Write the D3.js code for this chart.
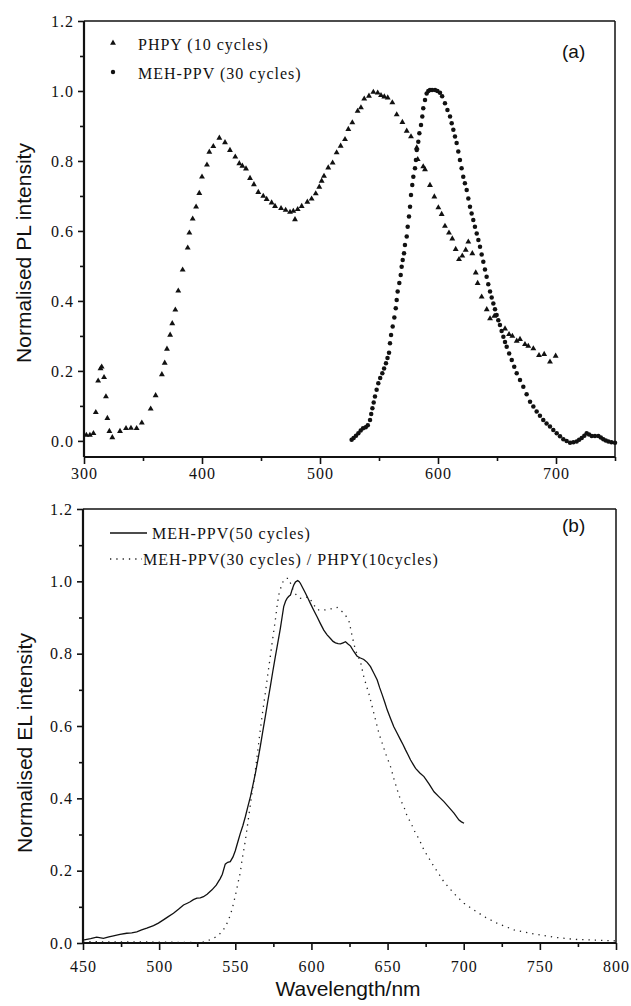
<!DOCTYPE html>
<html>
<head>
<meta charset="utf-8">
<script src="https://cdn.jsdelivr.net/npm/d3@7"></script>
<style>
  body { margin: 0; background: #fff; }
  .tick text { font-family: 'Liberation Serif', serif; font-size: 16px; letter-spacing: 1px; fill: #111; }
  .tick line { stroke: #111; stroke-width: 1.6; }
</style>
</head>
<body>
<div id="chart"></div>
<script>
// (a) PL spectra
const phpyNm = [302, 305, 308, 310, 312, 314, 315, 317, 318.6, 319.8, 321.5, 324, 330.5, 335.6, 339.8, 344.6, 349, 356.5, 360.7, 366, 368.4, 370.3, 373, 374.8, 377.4, 379.9, 383.6, 387.9, 389.3, 392.1, 395, 397.7, 400, 404.2, 406.2, 409.6, 414.7, 419.5, 423.7, 428.2, 431.6, 434.2, 437.3, 440.7, 444, 447.7, 451.9, 454.8, 459, 461.9, 467, 470.9, 474.6, 477.4, 478.8, 481.1, 484.5, 489.3, 492.9, 496.4, 499.4, 501.4, 503.4, 507, 510.7, 514.1, 517.5, 521.2, 524, 527.4, 531.9, 534.7, 537.5, 541.5, 545.2, 548.9, 551.7, 554.5, 557.4, 561.3, 565, 569.8, 573.5, 577.1, 582, 582.8, 587.5, 589, 593.2, 596.9, 600.3, 603.1, 605.9, 609.3, 612.1, 615, 617.8, 620.6, 623.5, 625.7, 629.1, 632, 633.6, 637, 641.3, 644.1, 647.7, 656.8, 660.2, 663, 666.7, 669.5, 673.7, 676.5, 680.8, 685.6, 690, 694.9, 699.7];
const phpyPL = [0.015, 0.015, 0.02, 0.08, 0.17, 0.205, 0.21, 0.18, 0.125, 0.063, 0.026, 0.008, 0.026, 0.034, 0.035, 0.034, 0.05, 0.09, 0.128, 0.188, 0.221, 0.261, 0.301, 0.334, 0.373, 0.427, 0.487, 0.55, 0.593, 0.633, 0.667, 0.706, 0.753, 0.787, 0.824, 0.84, 0.864, 0.851, 0.829, 0.81, 0.791, 0.784, 0.776, 0.749, 0.731, 0.709, 0.698, 0.689, 0.679, 0.669, 0.663, 0.658, 0.652, 0.655, 0.631, 0.66, 0.669, 0.681, 0.69, 0.705, 0.724, 0.741, 0.755, 0.779, 0.793, 0.822, 0.841, 0.86, 0.889, 0.908, 0.941, 0.951, 0.976, 0.984, 0.995, 0.993, 0.986, 0.982, 0.979, 0.965, 0.931, 0.909, 0.884, 0.868, 0.836, 0.803, 0.782, 0.774, 0.729, 0.696, 0.665, 0.646, 0.612, 0.593, 0.576, 0.546, 0.517, 0.527, 0.544, 0.567, 0.534, 0.479, 0.449, 0.41, 0.374, 0.348, 0.355, 0.319, 0.303, 0.298, 0.284, 0.289, 0.274, 0.269, 0.262, 0.243, 0.246, 0.224, 0.241];

const mehNm = [526.8, 528.5, 530.5, 532.5, 534.5, 536.5, 538.7, 540.5, 542.4, 543.4, 544.4, 545.5, 546.6, 548, 549.4, 551, 552.8, 554.3, 555.9, 557.2, 558.5, 559.3, 560.2, 561.6, 563, 564.2, 565, 565.8, 567.2, 568.4, 569.2, 570.1, 571.2, 572, 573.5, 574.3, 575.4, 576.3, 577.1, 578.2, 579.1, 580.5, 581.3, 582, 583.3, 584.2, 585.6, 586.7, 587.5, 589, 590.4, 591.8, 593.2, 595, 597.5, 599.5, 601.7, 603.5, 605.9, 608, 610.2, 611.6, 613, 614.4, 615.8, 617.2, 618.6, 620, 621.4, 622.8, 624.3, 625.7, 627.1, 628.5, 629.9, 631.3, 632.8, 634.2, 635.6, 637, 638.4, 639.8, 641.2, 642.6, 644.1, 645.5, 646.9, 648.3, 649.7, 651.1, 652.5, 653.9, 655.4, 656.8, 658.2, 660.3, 662.5, 664.6, 666.7, 669.5, 672.3, 675.1, 678, 680.8, 683.6, 686.4, 689.2, 692, 694.9, 697.7, 700.6, 703.4, 706.2, 709, 711.9, 714.7, 717.5, 719.6, 721.8, 724, 726, 728, 730.3, 733, 735.9, 738, 740.1, 742.2, 744.4, 747, 750];
const mehPL = [0.003, 0.008, 0.015, 0.022, 0.03, 0.036, 0.039, 0.045, 0.06, 0.077, 0.093, 0.11, 0.127, 0.146, 0.165, 0.18, 0.193, 0.207, 0.222, 0.237, 0.252, 0.279, 0.303, 0.327, 0.353, 0.379, 0.403, 0.427, 0.451, 0.474, 0.498, 0.517, 0.536, 0.56, 0.584, 0.612, 0.641, 0.669, 0.703, 0.731, 0.755, 0.779, 0.803, 0.831, 0.855, 0.879, 0.903, 0.927, 0.951, 0.974, 0.993, 1.0, 1.003, 1.003, 1.003, 1.0, 0.995, 0.985, 0.965, 0.946, 0.927, 0.908, 0.889, 0.87, 0.851, 0.827, 0.803, 0.779, 0.755, 0.736, 0.717, 0.693, 0.669, 0.65, 0.631, 0.612, 0.593, 0.574, 0.555, 0.533, 0.512, 0.49, 0.469, 0.448, 0.427, 0.41, 0.393, 0.376, 0.36, 0.345, 0.331, 0.314, 0.298, 0.283, 0.269, 0.25, 0.231, 0.212, 0.193, 0.174, 0.155, 0.133, 0.112, 0.098, 0.084, 0.072, 0.06, 0.05, 0.041, 0.031, 0.022, 0.013, 0.005, 0, -0.005, -0.004, -0.002, 0.003, 0.008, 0.015, 0.022, 0.018, 0.014, 0.014, 0.014, 0.01, 0.005, 0.001, -0.002, -0.004, -0.005];

// (b) EL spectra
const el50Nm = [450, 455, 459, 463.4, 467, 470, 474.3, 478.7, 482, 485.3, 488.5, 491.9, 496.3, 499.5, 502.8, 506, 509.4, 512.7, 516, 518.5, 520.4, 522.5, 524.8, 527, 529.1, 531.5, 534.7, 537.5, 540.1, 541.5, 543.4, 545, 546.7, 548.5, 550, 551.7, 553.3, 555, 556.6, 558.3, 559.9, 561.5, 563.2, 564.8, 566.4, 568, 569.7, 571.3, 573, 574.6, 576.3, 578, 579.6, 580.7, 581.8, 583, 584, 585, 586.2, 587.3, 588.4, 589.5, 591, 592, 592.8, 594.5, 596.1, 597.7, 599.3, 601.5, 603.7, 605.9, 608.1, 610.3, 612.5, 614.2, 615.8, 617.5, 619.1, 620.8, 622.4, 624, 625.7, 627.8, 630, 632.2, 634.4, 636.6, 638.8, 641, 643.2, 644.8, 646.5, 648.2, 649.8, 652, 654.1, 656.3, 658.6, 660.2, 661.8, 663.5, 665.1, 666.8, 668.4, 671.2, 673.9, 677.2, 680.5, 683.8, 687, 690.3, 693.6, 696.9, 698.5, 700.2];
const el50Val = [0.008, 0.012, 0.016, 0.013, 0.017, 0.02, 0.024, 0.027, 0.028, 0.031, 0.036, 0.041, 0.048, 0.055, 0.064, 0.073, 0.082, 0.093, 0.105, 0.11, 0.114, 0.12, 0.124, 0.125, 0.128, 0.135, 0.147, 0.16, 0.178, 0.19, 0.218, 0.223, 0.225, 0.238, 0.255, 0.28, 0.303, 0.325, 0.349, 0.378, 0.404, 0.435, 0.469, 0.505, 0.543, 0.584, 0.626, 0.667, 0.709, 0.75, 0.792, 0.832, 0.87, 0.9, 0.93, 0.945, 0.953, 0.958, 0.962, 0.977, 0.99, 0.998, 1.002, 0.999, 0.994, 0.98, 0.967, 0.953, 0.939, 0.92, 0.902, 0.883, 0.865, 0.852, 0.842, 0.834, 0.83, 0.828, 0.827, 0.83, 0.833, 0.827, 0.821, 0.806, 0.793, 0.788, 0.784, 0.776, 0.764, 0.746, 0.727, 0.706, 0.686, 0.665, 0.644, 0.62, 0.598, 0.58, 0.561, 0.548, 0.534, 0.52, 0.506, 0.494, 0.483, 0.47, 0.46, 0.44, 0.418, 0.404, 0.391, 0.375, 0.359, 0.34, 0.335, 0.331];

const elMixNm = [450, 470, 490, 510, 527, 531, 535.7, 538.5, 541.2, 543.5, 545.6, 547.3, 548.9, 550.5, 552.2, 553.3, 554.4, 555.5, 556.6, 558, 559.4, 560.8, 562.1, 563.2, 564.8, 566.4, 568, 569.7, 571.3, 573, 574.6, 576.3, 577.4, 578.5, 580.1, 581.8, 583.5, 585.1, 586.7, 588.4, 590.6, 592.8, 595.5, 598.2, 600.9, 603.7, 606.5, 609.2, 613, 616.9, 619.1, 621.3, 623, 624.5, 625.7, 626.8, 628.9, 630.5, 632.2, 634.4, 636, 637.7, 639.4, 641, 642.7, 644.3, 646.5, 648.7, 650.4, 652, 654.1, 656.4, 658.6, 660.7, 663, 665.1, 668.4, 670.6, 673.9, 677.2, 680.5, 683.8, 687, 690.3, 693.6, 696.9, 700.2, 706.8, 713.4, 722.2, 733.1, 746.3, 759.4, 772.6, 785.7, 800];
const elMixVal = [0.004, 0.003, 0.003, 0.002, 0.001, 0.005, 0.013, 0.02, 0.031, 0.045, 0.064, 0.085, 0.11, 0.14, 0.174, 0.195, 0.229, 0.255, 0.283, 0.325, 0.368, 0.41, 0.445, 0.478, 0.533, 0.589, 0.64, 0.69, 0.741, 0.792, 0.842, 0.893, 0.93, 0.962, 0.985, 1.004, 1.008, 1.008, 0.99, 0.971, 0.96, 0.953, 0.955, 0.957, 0.94, 0.921, 0.921, 0.921, 0.924, 0.928, 0.92, 0.912, 0.902, 0.893, 0.87, 0.847, 0.81, 0.794, 0.778, 0.736, 0.713, 0.69, 0.662, 0.635, 0.607, 0.58, 0.552, 0.524, 0.505, 0.487, 0.455, 0.423, 0.395, 0.377, 0.349, 0.334, 0.303, 0.288, 0.257, 0.234, 0.211, 0.19, 0.169, 0.153, 0.137, 0.123, 0.11, 0.091, 0.073, 0.054, 0.036, 0.025, 0.016, 0.01, 0.008, 0.006];

// ticks
const plXMajor = [300, 400, 500, 600, 700];
const plXMinor = [350, 450, 550, 650, 750];
const elXMajor = [450, 500, 550, 600, 650, 700, 750, 800];
const elXMinor = [475, 525, 575, 625, 675, 725, 775];
const yMajor = [0, 0.2, 0.4, 0.6, 0.8, 1.0, 1.2];
const yMinor = [0.1, 0.3, 0.5, 0.7, 0.9, 1.1];

const legendA = ['PHPY (10 cycles)', 'MEH-PPV (30 cycles)'];
const legendB = ['MEH-PPV(50 cycles)', 'MEH-PPV(30 cycles) / PHPY(10cycles)'];

const width = 631, height = 1006;
const svg = d3.select('#chart').append('svg')
    .attr('width', width)
    .attr('height', height);

const zip = (xs, ys) => xs.map((x, i) => ({ x: x, y: ys[i] }));

function panel(opts) {
  const x = d3.scaleLinear().domain(opts.xDomain).range([opts.left, opts.right]);
  const y = d3.scaleLinear().domain(opts.yDomain).range([opts.bottom, opts.top]);
  const g = svg.append('g');

  // minor ticks
  g.append('g').attr('transform', 'translate(0,' + opts.bottom + ')')
    .call(d3.axisBottom(x).tickValues(opts.xMinor).tickSize(4).tickFormat(''))
    .call(a => a.select('.domain').remove());
  g.append('g').attr('transform', 'translate(' + opts.left + ',0)')
    .call(d3.axisLeft(y).tickValues(yMinor).tickSize(4).tickFormat(''))
    .call(a => a.select('.domain').remove());
  // major ticks
  g.append('g').attr('transform', 'translate(0,' + opts.bottom + ')')
    .call(d3.axisBottom(x).tickValues(opts.xMajor).tickSize(7).tickPadding(opts.xPad).tickFormat(d3.format('d')))
    .call(a => a.select('.domain').remove());
  g.append('g').attr('transform', 'translate(' + opts.left + ',0)')
    .call(d3.axisLeft(y).tickValues(yMajor).tickSize(6).tickPadding(4).tickFormat(d3.format('.1f')))
    .call(a => a.select('.domain').remove());

  // frame
  g.append('line').attr('x1', opts.left).attr('x2', opts.right).attr('y1', opts.top).attr('y2', opts.top)
    .attr('stroke', '#111').attr('stroke-width', 1.5);
  g.append('line').attr('x1', opts.right).attr('x2', opts.right).attr('y1', opts.top).attr('y2', opts.bottom)
    .attr('stroke', '#111').attr('stroke-width', 1.5);
  g.append('line').attr('x1', opts.left).attr('x2', opts.left).attr('y1', opts.top).attr('y2', opts.bottom)
    .attr('stroke', '#111').attr('stroke-width', 2.2);
  g.append('line').attr('x1', opts.left).attr('x2', opts.right).attr('y1', opts.bottom).attr('y2', opts.bottom)
    .attr('stroke', '#111').attr('stroke-width', 2.2);

  // y title
  g.append('text')
    .attr('transform', 'translate(' + opts.yTitleX + ',' + opts.yTitleY + ') rotate(-90)')
    .attr('text-anchor', 'middle')
    .style('font-family', "'Liberation Sans', Arial, sans-serif")
    .style('font-size', '21px')
    .attr('fill', '#111')
    .text(opts.yTitle);

  // panel tag
  g.append('text')
    .attr('x', opts.tagX).attr('y', opts.tagY)
    .style('font-family', "'Liberation Sans', Arial, sans-serif")
    .style('font-size', '19px')
    .attr('fill', '#111')
    .text(opts.tag);

  return { g: g, x: x, y: y };
}

// ---- panel (a)
const pa = panel({
  xDomain: [300, 750], yDomain: [-0.046, 1.2],
  left: 84, right: 615, top: 21, bottom: 457,
  xMajor: plXMajor, xMinor: plXMinor, xPad: 4,
  yTitle: 'Normalised PL intensity', yTitleX: 31, yTitleY: 253,
  tag: '(a)', tagX: 562, tagY: 58
});

pa.g.append('g').selectAll('path')
  .data(zip(phpyNm, phpyPL))
  .enter().append('path')
    .attr('transform', d => 'translate(' + pa.x(d.x) + ',' + (pa.y(d.y) - 0.6) + ')')
    .attr('d', d3.symbol().type(d3.symbolTriangle).size(15))
    .attr('fill', '#111');

pa.g.append('g').selectAll('circle')
  .data(zip(mehNm, mehPL))
  .enter().append('circle')
    .attr('cx', d => pa.x(d.x))
    .attr('cy', d => pa.y(d.y))
    .attr('r', 2.25)
    .attr('fill', '#111');

// legend (a)
const legA = pa.g.append('g').style('font-family', "'Liberation Serif', serif")
  .style('font-size', '16px').style('letter-spacing', '1px').attr('fill', '#111');
legA.append('path').attr('transform', 'translate(113,43)')
  .attr('d', d3.symbol().type(d3.symbolTriangle).size(15)).attr('fill', '#111');
legA.append('circle').attr('cx', 113).attr('cy', 72).attr('r', 2.2).attr('fill', '#111');
legA.append('text').attr('x', 138).attr('y', 50).text(legendA[0]);
legA.append('text').attr('x', 138).attr('y', 79).text(legendA[1]);

// ---- panel (b)
const pb = panel({
  xDomain: [450, 800], yDomain: [0, 1.2],
  left: 83, right: 616, top: 509, bottom: 943,
  xMajor: elXMajor, xMinor: elXMinor, xPad: 11,
  yTitle: 'Normalised EL intensity', yTitleX: 32, yTitleY: 743,
  tag: '(b)', tagX: 562, tagY: 532
});

const lineB = d3.line().x(d => pb.x(d.x)).y(d => pb.y(d.y));

pb.g.append('path')
  .datum(zip(elMixNm, elMixVal))
  .attr('d', lineB)
  .attr('fill', 'none')
  .attr('stroke', '#222')
  .attr('stroke-width', 1.3)
  .attr('stroke-dasharray', '1.3,5');

pb.g.append('path')
  .datum(zip(el50Nm, el50Val))
  .attr('d', lineB)
  .attr('fill', 'none')
  .attr('stroke', '#111')
  .attr('stroke-width', 1.3);

// legend (b)
const legB = pb.g.append('g').style('font-family', "'Liberation Serif', serif")
  .style('font-size', '16px').style('letter-spacing', '1px').attr('fill', '#111');
legB.append('line').attr('x1', 110).attr('x2', 147).attr('y1', 533).attr('y2', 533)
  .attr('stroke', '#111').attr('stroke-width', 1.3);
legB.append('line').attr('x1', 110).attr('x2', 142).attr('y1', 559).attr('y2', 559)
  .attr('stroke', '#222').attr('stroke-width', 1.3).attr('stroke-dasharray', '1.3,5');
legB.append('text').attr('x', 152).attr('y', 539).text(legendB[0]);
legB.append('text').attr('x', 143).attr('y', 565).text(legendB[1]);

// x title
svg.append('text')
  .attr('x', 348).attr('y', 996)
  .attr('text-anchor', 'middle')
  .style('font-family', "'Liberation Sans', Arial, sans-serif")
  .style('font-size', '21px')
  .attr('fill', '#111')
  .text('Wavelength/nm');
</script>
</body>
</html>
